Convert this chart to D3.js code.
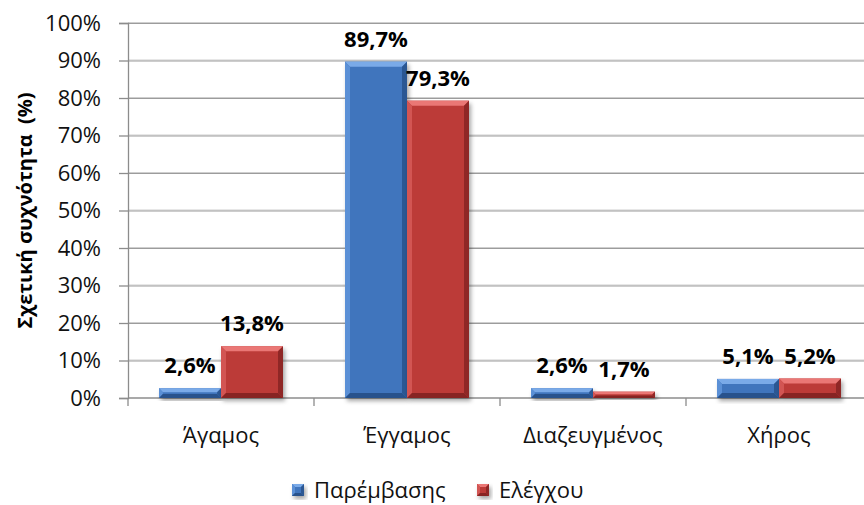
<!DOCTYPE html>
<html>
<head>
<meta charset="utf-8">
<script src="https://cdn.jsdelivr.net/npm/d3@7"></script>
<style>
  html, body { margin: 0; padding: 0; background: #fff; }
  svg { display: block; font-family: "Open Sans", "Noto Sans", sans-serif; }
</style>
</head>
<body>
<svg id="chart" width="864" height="505"></svg>
<script>
// Marital status categories and the share of each group (%)
const categories = ["Άγαμος", "Έγγαμος", "Διαζευγμένος", "Χήρος"];
const seriesNames = ["Παρέμβασης", "Ελέγχου"];
const interventionValues = [2.6, 89.7, 2.6, 5.1];
const controlValues = [13.8, 79.3, 1.7, 5.2];
const yTicks = [0, 10, 20, 30, 40, 50, 60, 70, 80, 90, 100];
const yTitle = "Σχετική συχνότητα  (%)";

const palette = {
  "Παρέμβασης": { base: "#3f74bd", light: "#7aaae8", dark: "#28528c", side: "#5b90d6" },
  "Ελέγχου":   { base: "#bc3a38", light: "#ea7775", dark: "#872423", side: "#d25553" }
};

const svg = d3.select("#chart");
const plotLeft = 128, plotRight = 872, plotTop = 23, plotBottom = 398;

const x = d3.scaleBand().domain(categories).range([plotLeft, plotRight]).padding(0);
const x1 = d3.scaleBand().domain(seriesNames).range([0, x.bandwidth()])
  .paddingOuter(0.5).paddingInner(0);
const y = d3.scaleLinear().domain([0, 100]).range([plotBottom, plotTop]);

const rows = categories.map((c, i) => ({
  category: c,
  values: [
    { name: seriesNames[0], value: interventionValues[i] },
    { name: seriesNames[1], value: controlValues[i] }
  ]
}));

// soft shadow under the bars
const defs = svg.append("defs");
const f = defs.append("filter").attr("id", "shadow")
  .attr("x", "-20%").attr("y", "-20%").attr("width", "150%").attr("height", "150%");
f.append("feDropShadow").attr("dx", 2).attr("dy", 3).attr("stdDeviation", 2)
  .attr("flood-color", "#000").attr("flood-opacity", 0.35);

// horizontal gridlines
const grid = svg.append("g");
yTicks.filter(t => t > 0).forEach(t => {
  grid.append("line").attr("x1", plotLeft).attr("x2", 864)
    .attr("y1", y(t) - 0.5).attr("y2", y(t) - 0.5)
    .attr("stroke", "#cfcfcf").attr("stroke-width", 1);
  grid.append("line").attr("x1", plotLeft).attr("x2", 864)
    .attr("y1", y(t) + 0.5).attr("y2", y(t) + 0.5)
    .attr("stroke", "#9c9c9c").attr("stroke-width", 1);
});

// y axis
const yAxis = d3.axisLeft(y).tickValues(yTicks).tickSize(9).tickPadding(18)
  .tickFormat(d => d + "%");
const gy = svg.append("g").attr("transform", `translate(${plotLeft},0)`).call(yAxis);
gy.attr("font-family", null).attr("font-size", null);
gy.select(".domain").attr("stroke", "#8c8c8c").attr("stroke-width", 1.3);
gy.selectAll(".tick line").attr("stroke", "#8c8c8c").attr("stroke-width", 1.3);
gy.selectAll(".tick text").attr("font-size", 22).attr("fill", "#111");

// x axis with ticks on category boundaries
const gx = svg.append("g").attr("transform", `translate(0,${plotBottom})`);
gx.append("line").attr("x1", plotLeft).attr("x2", 864).attr("y1", 0).attr("y2", 0)
  .attr("stroke", "#8c8c8c").attr("stroke-width", 1.3);
categories.forEach(c => {
  gx.append("line").attr("x1", x(c)).attr("x2", x(c)).attr("y1", 0).attr("y2", 8)
    .attr("stroke", "#8c8c8c").attr("stroke-width", 1.3);
});
gx.selectAll("text.cat").data(categories).join("text").attr("class", "cat")
  .attr("x", d => x(d) + x.bandwidth() / 2).attr("y", 45)
  .attr("text-anchor", "middle").attr("font-size", 22).attr("fill", "#111")
  .text(d => d);

// bevelled bar drawing
function bevelBar(g, bx, by, bw, bh, col, rim) {
  const b = Math.max(1, Math.min(rim, bh / 2.5));
  const grp = g.append("g");
  grp.append("rect").attr("x", bx).attr("y", by).attr("width", bw).attr("height", bh)
    .attr("fill", col.base).attr("filter", "url(#shadow)");
  // top rim
  grp.append("polygon").attr("points",
    [[bx, by], [bx + bw, by], [bx + bw - b, by + b], [bx + b, by + b]].join(" "))
    .attr("fill", col.light);
  // left rim
  grp.append("polygon").attr("points",
    [[bx, by], [bx + b, by + b], [bx + b, by + bh - b], [bx, by + bh]].join(" "))
    .attr("fill", col.side);
  // right rim
  grp.append("polygon").attr("points",
    [[bx + bw, by], [bx + bw, by + bh], [bx + bw - b, by + bh - b], [bx + bw - b, by + b]].join(" "))
    .attr("fill", col.dark).attr("opacity", 0.85);
  // bottom rim
  grp.append("polygon").attr("points",
    [[bx, by + bh], [bx + b, by + bh - b], [bx + bw - b, by + bh - b], [bx + bw, by + bh]].join(" "))
    .attr("fill", col.dark);
}

const bars = svg.append("g");
rows.forEach(r => {
  r.values.forEach(v => {
    const bx = x(r.category) + x1(v.name);
    const by = y(v.value);
    bevelBar(bars, bx, by, x1.bandwidth(), y(0) - by, palette[v.name], 5);
  });
});

// value labels
const labels = svg.append("g");
rows.forEach(r => {
  r.values.forEach(v => {
    labels.append("text")
      .attr("x", x(r.category) + x1(v.name) + x1.bandwidth() / 2)
      .attr("y", y(v.value) - 15)
      .attr("text-anchor", "middle").attr("font-size", 22).attr("font-weight", 700)
      .attr("fill", "#000")
      .text(v.value.toFixed(1).replace(".", ",") + "%");
  });
});

// y axis title
svg.append("text")
  .attr("transform", `translate(32,${(plotTop + plotBottom) / 2}) rotate(-90)`)
  .attr("text-anchor", "middle").attr("font-size", 20).attr("font-weight", 700)
  .attr("fill", "#000").attr("xml:space", "preserve").style("white-space", "pre")
  .text(yTitle);

// legend
const legend = svg.append("g");
const legendX = [292, 477];
seriesNames.forEach((s, i) => {
  bevelBar(legend, legendX[i], 484, 12, 12, palette[s], 3);
  legend.append("text").attr("x", legendX[i] + 22).attr("y", 498)
    .attr("font-size", 22).attr("fill", "#111").text(s);
});
</script>
</body>
</html>
